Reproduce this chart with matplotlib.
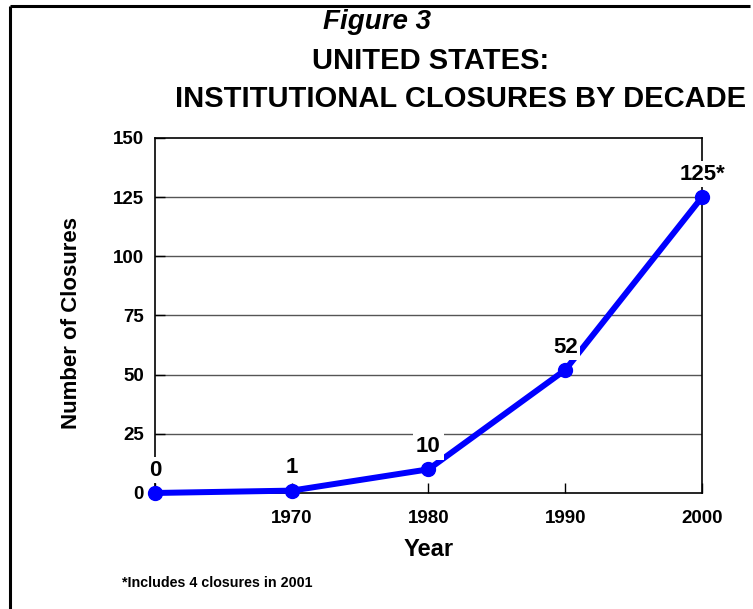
import matplotlib
matplotlib.use("Agg")
import matplotlib.pyplot as plt
from matplotlib.lines import Line2D

years = [1960, 1970, 1980, 1990, 2000]
closures = [0, 1, 10, 52, 125]
point_labels = ["0", "1", "10", "52", "125*"]
x_tick_labels = ["", "1970", "1980", "1990", "2000"]
y_ticks = [0, 25, 50, 75, 100, 125, 150]

plt.rcParams['font.family'] = ['Liberation Sans', 'DejaVu Sans']
plt.rcParams['font.weight'] = 'bold'

fig = plt.figure(figsize=(7.53, 6.09), dpi=100, facecolor='white')
ax = fig.add_axes([0.2058, 0.1905, 0.7265, 0.5829])

ax.set_xlim(1960, 2000)
ax.set_ylim(0, 150)
ax.set_yticks(y_ticks)
ax.set_xticks(years)
ax.set_xticklabels(x_tick_labels)
for y in y_ticks[1:-1]:
    ax.axhline(y, color='#555555', lw=1.0, zorder=1)

ax.plot(years, closures, color='#0000FF', lw=4.3, marker='o', markersize=10,
        clip_on=False, zorder=3)
for x, y, lab in zip(years, closures, point_labels):
    ax.annotate(lab, (x, y), xytext=(0, 16.5), textcoords='offset points',
                ha='center', va='center', fontsize=16, fontweight='bold',
                bbox=dict(boxstyle='square,pad=0.12', fc='white', ec='none'),
                zorder=4, annotation_clip=False)

for s in ax.spines.values():
    s.set_color('black')
    s.set_linewidth(1.2)
ax.tick_params(axis='both', direction='in', length=7, width=1, labelsize=13.5)
ax.tick_params(axis='y', pad=8)
ax.tick_params(axis='x', pad=12)
for t in ax.get_xticklabels() + ax.get_yticklabels():
    t.set_fontweight('bold')

ax.set_xlabel('Year', fontsize=17, fontweight='bold')
ax.set_ylabel('Number of Closures', fontsize=16, fontweight='bold')
ax.xaxis.set_label_coords(0.5, -0.158)
ax.xaxis.label.set_va('center')
ax.yaxis.set_label_coords(-0.152, 0.479)
ax.yaxis.label.set_va('center')

fig.text(377/753, 1-22/609, 'Figure 3', ha='center', va='center', fontsize=20,
         fontweight='bold', style='italic')
fig.text(431/753, 1-61/609, 'UNITED STATES:', ha='center', va='center', fontsize=21,
         fontweight='bold')
fig.text(461/753, 1-99/609, 'INSTITUTIONAL CLOSURES BY DECADE', ha='center', va='center',
         fontsize=21, fontweight='bold')
fig.text(122/753, 1-583/609, '*Includes 4 closures in 2001', ha='left', va='center',
         fontsize=10.3, fontweight='bold')

fig.add_artist(Line2D([10/753, 10/753], [0, 1-6/609], transform=fig.transFigure,
                      color='black', lw=2.2, solid_capstyle='butt'))
fig.add_artist(Line2D([10/753, 750/753], [1-6/609, 1-6/609], transform=fig.transFigure,
                      color='black', lw=2.2, solid_capstyle='butt'))

fig.savefig('out.png', dpi=100, facecolor='white')
